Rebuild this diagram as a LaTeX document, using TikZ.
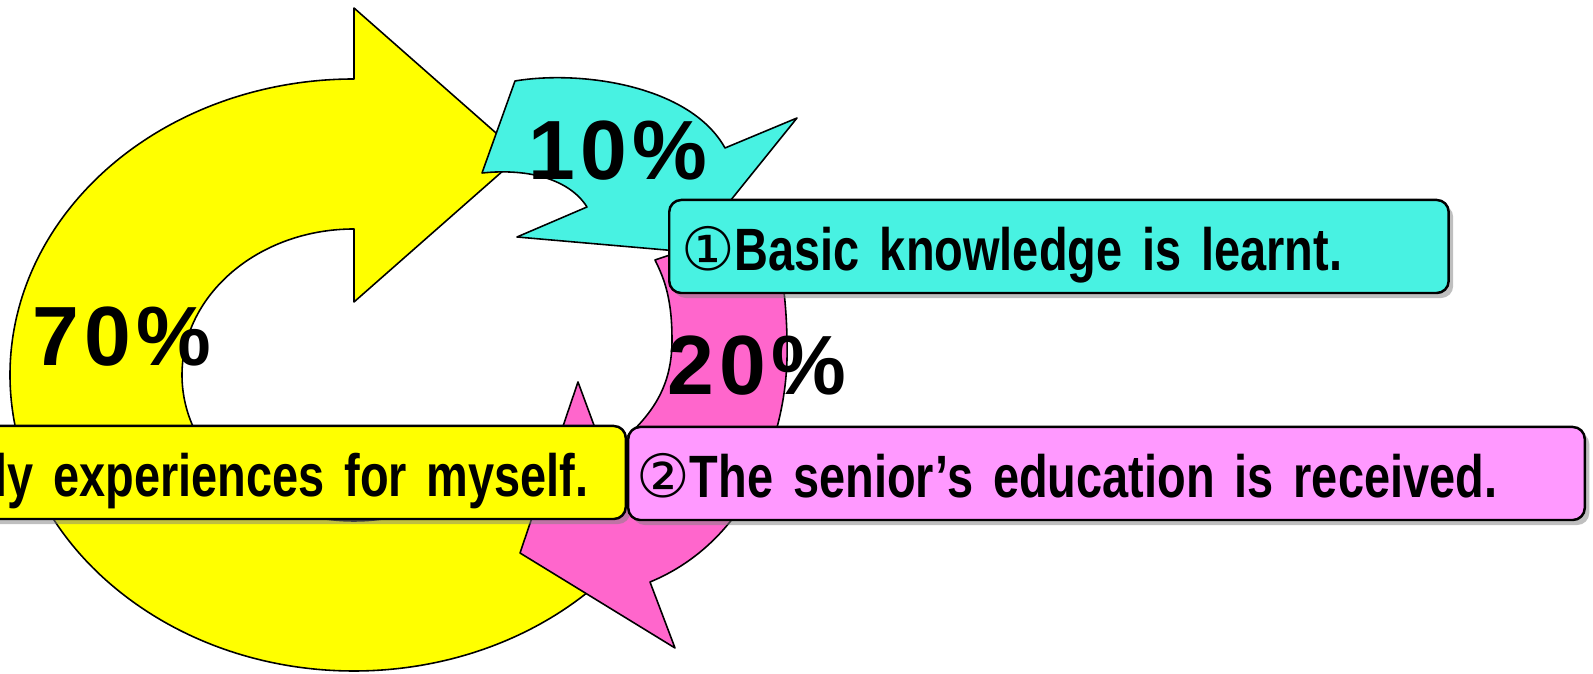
\documentclass[tikz,border=0pt]{standalone}
\usepackage{fontspec}
\setmainfont{Liberation Sans}
\newfontfamily\lblfont[FakeStretch=0.785]{Liberation Sans}
\newfontfamily\pctfont[LetterSpace=6]{Liberation Sans}
\newfontfamily\circfont{DejaVu Sans}
\usetikzlibrary{shadows}
\definecolor{cyanfill}{RGB}{72,242,226}
\definecolor{pinkarrow}{RGB}{255,102,204}
\definecolor{pinklabel}{RGB}{255,153,255}
\definecolor{yellowfill}{RGB}{255,255,0}
\tikzset{
  ring/.style={draw=black,line width=0.45pt},
  pct/.style={font=\fontsize{23.9}{26}\selectfont\pctfont\bfseries},
  lbl/.style={draw=black,line width=0.7pt,rounded corners=0.12cm,
    inner ysep=0pt,text height=0.70cm,text depth=0.23cm,
    font=\fontsize{17}{19}\selectfont\lblfont\bfseries,
    drop shadow={opacity=0.5,shadow xshift=0.045cm,shadow yshift=-0.05cm}},
}
\newcommand{\circnum}[1]{{\circfont\mdseries #1}}
\begin{document}
\begin{tikzpicture}[x=0.01cm,y=-0.01cm,line join=round]
\path[use as bounding box] (0,0) rectangle (1593,674);
\path
  (354,375) coordinate (Y)
  (354,8) coordinate (Ya)
  (521,155) coordinate (Yt)
  (354,302) coordinate (Yb)
  (675,648) coordinate (Pa)
  (520,553) coordinate (Pt)
  (578,382) coordinate (Pb)
  (797,118) coordinate (Ca)
  (689,252) coordinate (Ct)
  (517,237) coordinate (Cb)
  ;
% yellow ring
\draw[ring,fill=yellowfill] (Y) ++(40:344 and 296)
  arc[start angle=40,end angle=270,x radius=344,y radius=296]
  -- (Ya) -- (Yt) -- (Yb) -- (354,229)
  arc[start angle=270,end angle=40,x radius=172,y radius=146] -- cycle;
% pink arrow
\draw[ring,fill=pinkarrow] (655,260) -- (768,222)
  .. controls (782,255) and (788,310) .. (787,360)
  .. controls (784,450) and (740,545) .. (650,582)
  -- (Pa) -- (Pt) -- (Pb) -- (605,455)
  .. controls (650,420) and (672,390) .. (672,340)
  .. controls (672,300) and (665,280) .. (655,260) -- cycle;
% cyan arrow
\draw[ring,fill=cyanfill] (515,81)
  .. controls (580,70) and (690,85) .. (725,148)
  -- (Ca) -- (Ct) -- (Cb) -- (587,207)
  .. controls (570,180) and (530,168) .. (482,173) -- cycle;
\foreach \t/\c in {70/{122,337},10/{618,151},20/{757,366}}
  \node[pct] (pct\t) at (\c) {\t\%};
% labels
\node[lbl,fill=yellowfill,anchor=east,inner xsep=0.37cm,text width=6.53cm,align=right]
  (myself) at (627,472.5) {ly experiences for myself.};
\node[lbl,fill=pinklabel,anchor=west,inner xsep=0.08cm,text width=9.40cm,align=left]
  (senior) at (627,473.5) {\circnum{②}The senior’s education is received.};
\node[lbl,fill=cyanfill,anchor=west,inner xsep=0.12cm,text width=7.55cm,align=left]
  (basic) at (668,246.5) {\circnum{①}Basic knowledge is learnt.};
\end{tikzpicture}
\end{document}
